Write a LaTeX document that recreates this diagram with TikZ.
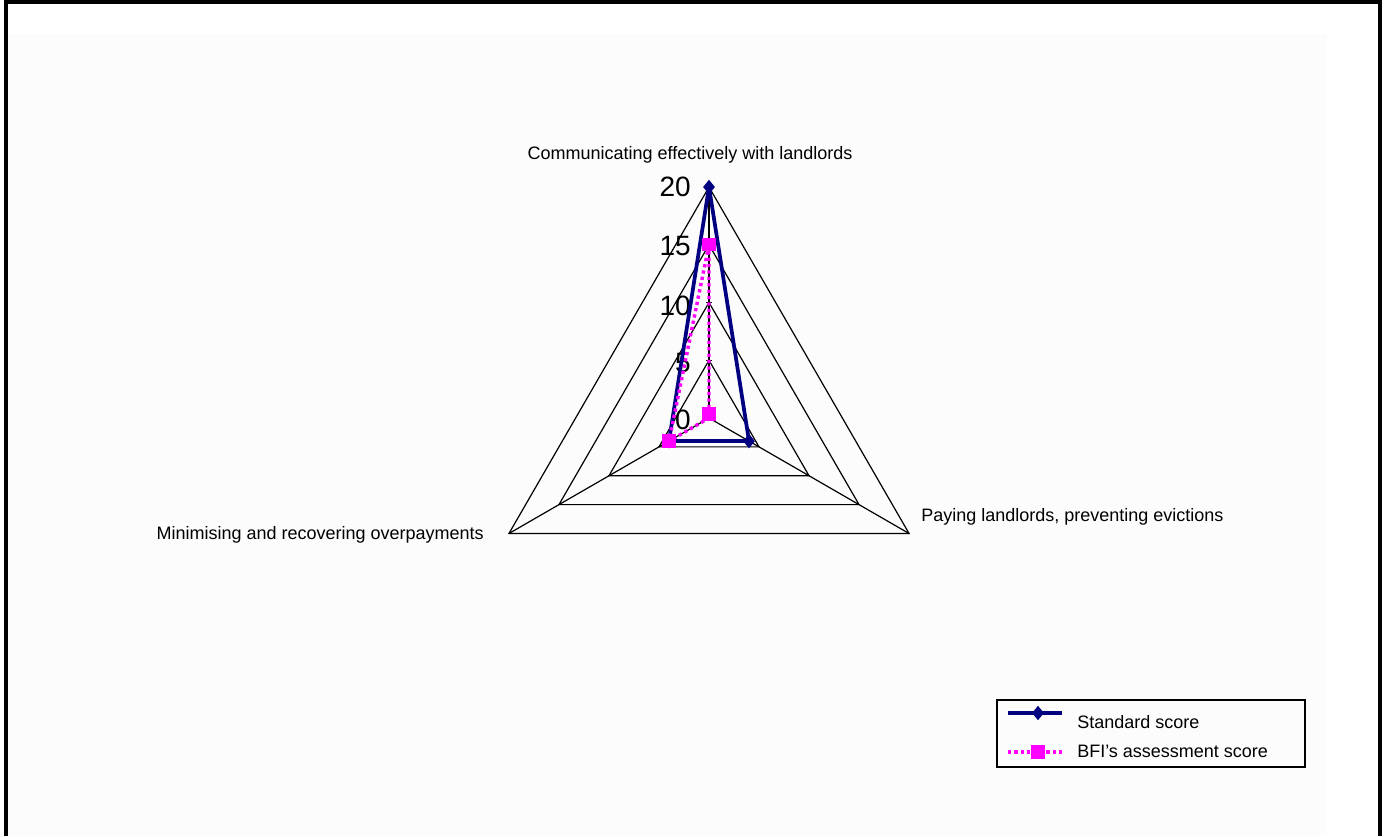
\documentclass[tikz,border=0pt]{standalone}
\usepackage{fontspec}
\setmainfont{Liberation Sans}
\usetikzlibrary{calc,shapes.geometric}
\definecolor{navyline}{HTML}{000080}
\definecolor{pinkline}{HTML}{FF00FF}
\definecolor{plotbg}{HTML}{FCFCFC}
\begin{document}
\begin{tikzpicture}[x=0.75pt,y=-0.75pt,
  grid/.style={black, line width=0.9pt},
  stdline/.style={navyline, line width=2.8pt, line join=round},
  bfiline/.style={pinkline, line width=2.6pt, dash pattern=on 2.4pt off 2.4pt},
  stdmark/.style={diamond, fill=navyline, inner sep=0pt, minimum width=9pt, minimum height=11pt},
  bfimark/.style={rectangle, fill=pinkline, inner sep=0pt, minimum size=10pt},
  catlabel/.style={font=\fontsize{13.5}{16}\selectfont, inner sep=0pt},
  ticklabel/.style={font=\fontsize{21}{24}\selectfont, inner sep=0pt, anchor=east},
]
\useasboundingbox (0,0) rectangle (1384,836);
\fill[white] (0,0) rectangle (1384,836);
% chart area
\fill[plotbg] (8,34) rectangle (1327,836);
% outer frame (open at the bottom)
\draw[line width=3pt] (5.8,836) -- (5.8,2) -- (1379.5,2) -- (1379.5,836);

% radar centre and axis points: 11.55 units per score point
\coordinate (c) at (709,418);
\foreach \ang/\nm in {-90/t,30/r,150/l}{
  \foreach \v in {4,5,10,15,20}{
    \coordinate (\nm\v) at ($(c)+(\ang:{11.55*\v})$);
  }
}

% gridlines
\foreach \v in {5,10,15,20}{
  \draw[grid] (t\v) -- (r\v) -- (l\v) -- cycle;
  \draw[grid] ($(t\v)+(-3,0)$) -- ($(t\v)+(3,0)$);
}
\draw[grid] (c) -- (t20);
\draw[grid] (c) -- (r20);
\draw[grid] (c) -- (l20);

% value axis labels
\node[ticklabel] (v20) at ($(t20)+(-18,0)$) {20};
\node[ticklabel] (v15) at ($(t15)+(-18,1)$) {15};
\node[ticklabel] (v10) at ($(t10)+(-18,3)$) {10};
\node[ticklabel] (v5)  at ($(t5)+(-18,3)$)  {5};
\node[ticklabel] (v0)  at ($(c)+(-18,2)$)   {0};

% category labels
\node[catlabel, anchor=base] (cattop) at (690,159) {Communicating effectively with landlords};
\node[catlabel, anchor=base west] (catright) at (921,521) {Paying landlords, preventing evictions};
\node[catlabel, anchor=base east] (catleft) at (484,539) {Minimising and recovering overpayments};

% series: standard score
\draw[stdline] (t20) -- (r4) -- (l4) -- cycle;
% series: BFI's assessment score
\draw[bfiline] (t15) -- (c) -- (l4) -- cycle;

\node[stdmark] (s1) at (t20) {};
\node[stdmark] (s2) at (r4) {};
\node[stdmark] (s3) at (l4) {};
\node[bfimark] (b1) at (t15) {};
\node[bfimark] (b2) at ($(c)+(0,-4)$) {};
\node[bfimark] (b3) at (l4) {};

% legend
\draw[grid] (997,700) rectangle (1305,767);
\coordinate (lsa) at (1008,713);
\coordinate (lsb) at (1062,713);
\coordinate (lba) at (1008,752);
\coordinate (lbb) at (1062,752);
\draw[stdline] (lsa) -- (lsb);
\node[stdmark] (lgstd) at (1038,713) {};
\node[catlabel, anchor=base west] (lgstdtext) at (1077,728) {Standard score};
\draw[bfiline] (lba) -- (lbb);
\node[bfimark] (lgbfi) at (1038,752) {};
\node[catlabel, anchor=base west] (lgbfitext) at (1077,757) {BFI's assessment score};
\end{tikzpicture}
\end{document}
